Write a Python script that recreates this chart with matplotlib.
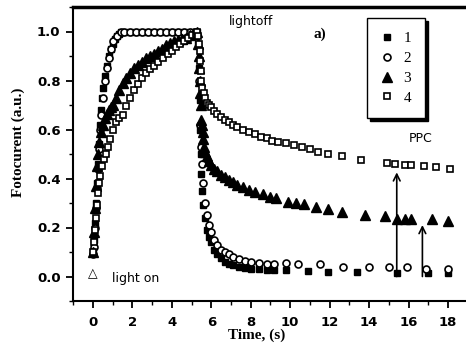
import matplotlib
matplotlib.use("Agg")
import matplotlib.pyplot as plt
from matplotlib.ticker import MultipleLocator

# sample 1 (filled squares)
t1 = [0.0, 0.05, 0.1, 0.15, 0.2, 0.25, 0.3, 0.35, 0.4, 0.45, 0.5, 0.6, 0.7, 0.8, 0.9, 1.0,
      1.1, 1.2, 1.3, 1.4, 1.7, 2.0, 2.3, 2.6, 2.9, 3.2, 3.5, 3.8, 4.1, 4.4, 4.7, 5.0, 5.3,
      5.35, 5.38, 5.41, 5.44, 5.47, 5.5, 5.55, 5.6, 5.7, 5.8, 5.9, 6.0, 6.15, 6.3, 6.5,
      6.7, 6.9, 7.1, 7.4, 7.7, 8.0, 8.4, 8.8, 9.2, 9.8, 10.9, 11.9, 13.4, 15.4, 17.0, 18.0]
i1 = [0.1, 0.15, 0.22, 0.3, 0.38, 0.46, 0.54, 0.62, 0.68, 0.73, 0.77, 0.82, 0.86, 0.9, 0.93, 0.95,
      0.97, 0.98, 0.99, 1.0, 1.0, 1.0, 1.0, 1.0, 1.0, 1.0, 1.0, 1.0, 1.0, 1.0, 1.0, 1.0, 1.0,
      0.95, 0.85, 0.72, 0.6, 0.5, 0.42, 0.35, 0.29, 0.24, 0.19, 0.16, 0.14, 0.11, 0.09, 0.075,
      0.06, 0.05, 0.045, 0.04, 0.035, 0.03, 0.03, 0.028, 0.027, 0.025, 0.022, 0.02, 0.02, 0.015, 0.015, 0.015]

# sample 2 (open circles)
t2 = [0.0, 0.05, 0.1, 0.15, 0.2, 0.25, 0.3, 0.35, 0.4, 0.5, 0.6, 0.7, 0.8, 0.9, 1.0, 1.2,
      1.4, 1.6, 1.9, 2.2, 2.5, 2.8, 3.1, 3.4, 3.7, 4.0, 4.3, 4.6, 4.9, 5.2,
      5.4, 5.45, 5.5, 5.55, 5.6, 5.7, 5.8, 5.9, 6.0, 6.15, 6.3, 6.5, 6.7, 6.9, 7.1, 7.4,
      7.7, 8.0, 8.4, 8.8, 9.2, 9.8, 10.4, 11.5, 12.7, 14.0, 15.0, 15.9, 16.9, 18.0]
i2 = [0.09, 0.12, 0.2, 0.28, 0.36, 0.44, 0.52, 0.6, 0.66, 0.73, 0.8, 0.85, 0.89, 0.93, 0.96, 0.98,
      1.0, 1.0, 1.0, 1.0, 1.0, 1.0, 1.0, 1.0, 1.0, 1.0, 1.0, 1.0, 1.0, 1.0,
      0.8, 0.62, 0.53, 0.46, 0.38, 0.3, 0.25, 0.21, 0.18, 0.15, 0.13, 0.11, 0.1, 0.09, 0.08, 0.07,
      0.065, 0.06, 0.055, 0.05, 0.05, 0.055, 0.05, 0.05, 0.04, 0.037, 0.037, 0.037, 0.03, 0.03]

# sample 3 (filled triangles)
t3 = [0.0, 0.05, 0.1, 0.15, 0.2, 0.25, 0.3, 0.4, 0.5, 0.6, 0.7, 0.8, 0.9, 1.0, 1.15, 1.3,
      1.5, 1.7, 1.9, 2.1, 2.3, 2.5, 2.7, 2.9, 3.1, 3.3, 3.5, 3.7, 3.9, 4.1, 4.3, 4.5, 4.7,
      4.9, 5.1, 5.3,
      5.35, 5.38, 5.4, 5.42, 5.44, 5.46, 5.5, 5.53, 5.56, 5.6, 5.65, 5.7, 5.8, 5.9, 6.0,
      6.15, 6.3, 6.5, 6.7, 6.9, 7.1, 7.3, 7.6, 7.9, 8.2, 8.6, 9.0, 9.3, 9.9, 10.3, 10.7,
      11.3, 11.9, 12.6, 13.8, 14.8, 15.4, 15.8, 16.1, 17.2, 18.0]
i3 = [0.1, 0.18, 0.28, 0.37, 0.45, 0.5, 0.55, 0.59, 0.62, 0.645, 0.665, 0.68, 0.69, 0.7, 0.73, 0.76,
      0.79, 0.81, 0.83, 0.85, 0.865, 0.875, 0.89, 0.9, 0.91, 0.92, 0.93, 0.945, 0.955, 0.96, 0.965, 0.97, 0.975,
      0.985, 0.99, 1.0,
      0.95, 0.9, 0.85, 0.8, 0.75, 0.7, 0.64, 0.62, 0.59, 0.56, 0.53, 0.51, 0.49, 0.47, 0.455,
      0.44, 0.43, 0.415, 0.405, 0.395, 0.385, 0.375, 0.365, 0.355, 0.345, 0.335, 0.325, 0.32, 0.305, 0.3, 0.295,
      0.285, 0.275, 0.265, 0.25, 0.245, 0.235, 0.235, 0.235, 0.235, 0.225]

# sample 4 (open squares)
t4 = [0.0, 0.05, 0.1, 0.15, 0.2, 0.25, 0.3, 0.35, 0.45, 0.55, 0.65, 0.75, 0.86, 1.0, 1.15, 1.3,
      1.5, 1.7, 1.9, 2.1, 2.3, 2.5, 2.7, 2.9, 3.1, 3.3, 3.55, 3.8, 4.0, 4.2, 4.4, 4.6, 4.8,
      5.0, 5.2, 5.3,
      5.35, 5.38, 5.41, 5.44, 5.47, 5.5, 5.55, 5.62, 5.7, 5.8, 5.9, 6.0, 6.15, 6.3, 6.5,
      6.7, 6.9, 7.1, 7.3, 7.6, 7.9, 8.2, 8.5, 8.8, 9.1, 9.4, 9.8, 10.2, 10.6, 11.0, 11.4,
      11.9, 12.6, 13.6, 14.9, 15.3, 15.8, 16.1, 16.8, 17.4, 18.1]
i4 = [0.1, 0.14, 0.19, 0.24, 0.29, 0.34, 0.38, 0.41, 0.45, 0.48, 0.5, 0.53, 0.56, 0.6, 0.63, 0.645,
      0.66, 0.695, 0.73, 0.76, 0.785, 0.81, 0.83, 0.845, 0.86, 0.875, 0.89, 0.91, 0.92, 0.935, 0.95, 0.96, 0.975,
      0.985, 0.99, 1.0,
      0.98, 0.95, 0.92, 0.88, 0.84, 0.8, 0.77, 0.75, 0.73, 0.71, 0.7, 0.69, 0.675, 0.665, 0.65,
      0.64, 0.63, 0.62, 0.61, 0.6, 0.59, 0.58, 0.57, 0.565, 0.555, 0.55, 0.545, 0.535, 0.53, 0.52, 0.51,
      0.5, 0.49, 0.475, 0.465, 0.46, 0.455, 0.455, 0.45, 0.445, 0.44]

labels = ["1", "2", "3", "4"]

# PPC arrows: (time, start, end)
ppc_arrows = [(15.4, 0.0, 0.425), (16.7, 0.0, 0.21)]

fig = plt.figure(figsize=(4.66, 3.51), dpi=100)
ax = fig.add_axes([73 / 466, 50 / 351, 393 / 466, 294 / 351])

ax.plot(t1, i1, ls="none", marker="s", ms=5, color="black", label=labels[0])
ax.plot(t2, i2, ls="none", marker="o", ms=5, mfc="white", mec="black", mew=1.2, label=labels[1])
ax.plot(t3, i3, ls="none", marker="^", ms=7, color="black", label=labels[2])
ax.plot(t4, i4, ls="none", marker="s", ms=5, mfc="white", mec="black", mew=1.2, label=labels[3])

for x, y0, y1 in ppc_arrows:
    ax.annotate("", xy=(x, y1), xytext=(x, y0),
                arrowprops=dict(arrowstyle="->", color="black", lw=1.2,
                                shrinkA=0, shrinkB=0, mutation_scale=12))

ax.set_xlim(-1.01, 18.91)
ax.set_ylim(-0.1, 1.1)
ax.xaxis.set_minor_locator(MultipleLocator(1))
ax.yaxis.set_minor_locator(MultipleLocator(0.1))
ax.set_xticks([0, 2, 4, 6, 8, 10, 12, 14, 16, 18])
ax.set_yticks([0.0, 0.2, 0.4, 0.6, 0.8, 1.0])
ax.set_yticklabels(["0.0", "0.2", "0.4", "0.6", "0.8", "1.0"])

ax.spines["right"].set_visible(False)
for s in ["left", "bottom"]:
    ax.spines[s].set_linewidth(1.5)
ax.spines["top"].set_linewidth(2.5)

ax.tick_params(which="major", direction="out", length=5, width=1.3, labelsize=9.5, pad=4)
ax.tick_params(which="minor", direction="out", length=3, width=1.0)
ax.tick_params(axis="x", which="major", pad=6)
ax.tick_params(top=False, right=False, which="both")
for lab in ax.get_xticklabels() + ax.get_yticklabels():
    lab.set_fontweight("bold")
    lab.set_family("DejaVu Sans")

ax.set_xlabel("Time, (s)", family="Liberation Serif", fontweight="bold", fontsize=11)
ax.set_ylabel("Fotocurent (a.u.)", family="Liberation Serif", fontweight="bold", fontsize=11)
ax.xaxis.set_label_coords(0.468, -0.093)
ax.yaxis.set_label_coords(-0.122, 0.54)

ax.text(8.0, 1.04, "lightoff", ha="center", va="center", fontsize=9, family="DejaVu Sans")
ax.text(11.5, 0.99, "a)", ha="center", va="center", fontsize=11, family="Liberation Serif",
        fontweight="bold")
ax.text(16.6, 0.563, "PPC", ha="center", va="center", fontsize=9, family="DejaVu Sans")
ax.text(0.0, 0.01, "\u25b3", ha="center", va="center", fontsize=9, fontweight="bold")
ax.text(0.95, -0.01, "light on", ha="left", va="center", fontsize=9, family="DejaVu Sans")

leg = ax.legend(loc="upper left", bbox_to_anchor=(0.748, 0.963), frameon=True, fancybox=False,
                shadow={"color": "black", "alpha": 1}, edgecolor="black", framealpha=1,
                prop={"family": "Liberation Serif", "size": 11}, handlelength=0.8,
                handletextpad=0.7, labelspacing=0.4, borderpad=0.9, borderaxespad=0)
leg.get_frame().set_linewidth(1.0)

fig.savefig("out.png", dpi=100)
